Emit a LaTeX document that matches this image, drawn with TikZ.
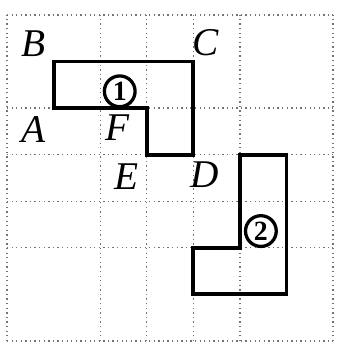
\documentclass[tikz,border=0pt]{standalone}
\usepackage{fontspec}
\setmainfont{Liberation Serif}
\begin{document}
\begin{tikzpicture}[x=1cm,y=1cm,
  gridline/.style={black!55,dotted,line width=0.8pt},
  outline/.style={black,line width=2.4pt,line join=miter},
  lbl/.style={font=\fontsize{24}{26}\selectfont\itshape,inner sep=0pt},
  num/.style={circle,draw,line width=2pt,inner sep=0.5pt,minimum size=0.66cm,font=\fontsize{17}{19}\selectfont\bfseries,fill=white}]
\useasboundingbox (-0.15,-0.15) rectangle (7.17,7.32);
% grid
\foreach \x in {0,2,3,4,5,7} \draw[gridline] (\x,0) -- (\x,7);
\foreach \y in {0,2,3,4,5,7} \draw[gridline] (0,\y) -- (7,\y);
% shapes
\draw[outline] (1,6) -- (4,6) -- (4,4) -- (3,4) -- (3,5) -- (1,5) -- cycle;
\draw[outline] (5,4) -- (6,4) -- (6,1) -- (4,1) -- (4,2) -- (5,2) -- cycle;
% labels
\node[lbl] (B) at (0.56,6.38) {B};
\node[lbl] (C) at (4.27,6.4) {C};
\node[lbl] (A) at (0.56,4.55) {A};
\node[lbl] (F) at (2.38,4.57) {F};
\node[lbl] (E) at (2.57,3.52) {E};
\node[lbl] (D) at (4.25,3.56) {D};
\node[num] (n1) at (2.42,5.36) {1};
\node[num] (n2) at (5.45,2.36) {2};
\end{tikzpicture}
\end{document}
